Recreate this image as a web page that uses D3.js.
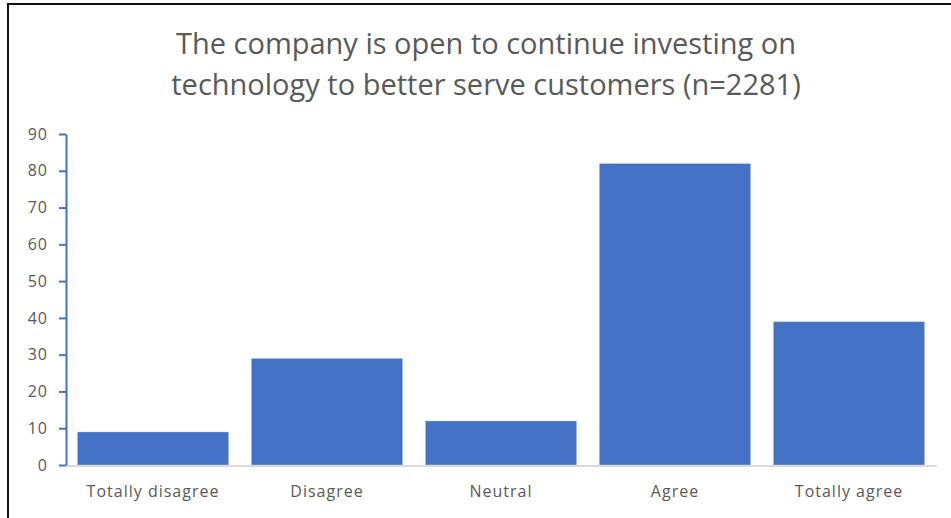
<!DOCTYPE html>
<html>
<head>
<meta charset="utf-8">
<script src="https://cdn.jsdelivr.net/npm/d3@7"></script>
<style>
  html, body { margin: 0; padding: 0; background: #fff; }
  svg { display: block; }
</style>
</head>
<body>
<svg id="chart" width="951" height="518"></svg>
<script>
// Survey responses
const categories = ["Totally disagree", "Disagree", "Neutral", "Agree", "Totally agree"];
const values = [9, 29, 12, 82, 39];
const yTicks = [0, 10, 20, 30, 40, 50, 60, 70, 80, 90];
const titleLines = [
  "The company is open to continue investing on",
  "technology to better serve customers (n=2281)"
];

const svg = d3.select("#chart");
const W = 951, H = 518;
const margin = { left: 66, right: 15, top: 134, bottom: 53 };
const textColor = "#595959";
const barColor = "#4472C4";
const font = "'Open Sans', 'Liberation Sans', sans-serif";

// frame around the chart area
svg.append("path")
  .attr("d", `M8,${H} L8,4 L${W},4`)
  .attr("fill", "none")
  .attr("stroke", "#111")
  .attr("stroke-width", 2);

// title
svg.append("g").selectAll("text")
  .data(titleLines)
  .join("text")
  .attr("x", 486)
  .attr("y", (d, i) => 54 + i * 41)
  .attr("text-anchor", "middle")
  .attr("font-family", font)
  .attr("font-size", 29)
  .attr("fill", textColor)
  .text(d => d);

const x = d3.scaleBand()
  .domain(categories)
  .range([margin.left, W - margin.right])
  .paddingInner(0.13)
  .paddingOuter(0.065);

const y = d3.scaleLinear()
  .domain([0, 90])
  .range([H - margin.bottom, margin.top]);

// bars
svg.append("g").selectAll("rect")
  .data(values)
  .join("rect")
  .attr("x", (d, i) => x(categories[i]))
  .attr("y", d => y(d))
  .attr("width", x.bandwidth())
  .attr("height", d => y(0) - y(d))
  .attr("fill", barColor)
  .attr("stroke", "rgba(255,255,255,0.35)")
  .attr("stroke-width", 1);

// category baseline
svg.append("line")
  .attr("x1", margin.left)
  .attr("x2", W - margin.right + 1)
  .attr("y1", y(0) + 1)
  .attr("y2", y(0) + 1)
  .attr("stroke", "#d9d9d9")
  .attr("stroke-width", 2);

// y axis
const yAxis = svg.append("g")
  .attr("transform", `translate(${margin.left},0)`)
  .call(d3.axisLeft(y).tickValues(yTicks).tickSize(7).tickPadding(11).tickSizeOuter(0));
yAxis.select(".domain").attr("stroke", barColor).attr("stroke-width", 2);
yAxis.selectAll(".tick line").attr("stroke", barColor).attr("stroke-width", 2);
yAxis.selectAll(".tick text")
  .attr("font-family", font)
  .attr("font-size", 16)
  .attr("letter-spacing", 1)
  .attr("fill", textColor);

// x axis labels
const xAxis = svg.append("g")
  .attr("transform", `translate(0,${y(0)})`)
  .call(d3.axisBottom(x).tickSize(0).tickPadding(21));
xAxis.select(".domain").remove();
xAxis.selectAll(".tick text")
  .attr("font-family", font)
  .attr("font-size", 16)
  .attr("letter-spacing", 1)
  .attr("fill", textColor);
</script>
</body>
</html>
